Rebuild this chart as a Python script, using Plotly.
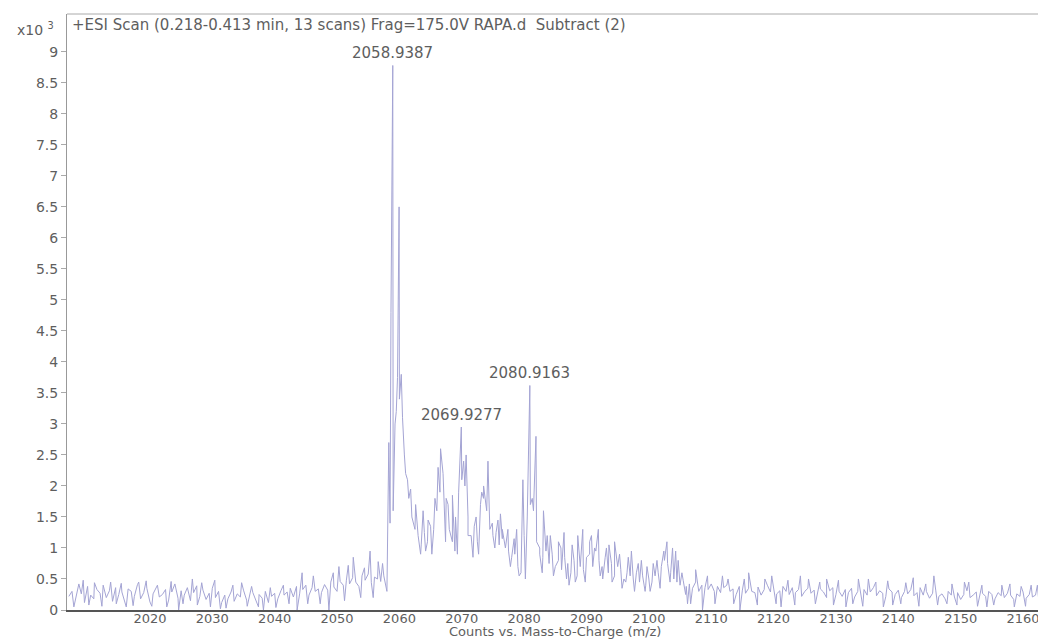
import numpy as np
import plotly.graph_objects as go

# Profile on a 0.5 m/z grid starting at 2007.0 (counts x10^3)
grid_start = 2007.0
grid_step = 0.5
profile = [
    0.22, 0.30, 0.15, 0.35, 0.26, 0.12, 0.38, 0.24, 0.18, 0.33,
    0.27, 0.40, 0.20, 0.31, 0.14, 0.36, 0.25, 0.29, 0.11, 0.34,
    0.30, 0.22, 0.41, 0.18, 0.28, 0.35, 0.13, 0.26, 0.38, 0.21,
    0.25, 0.33, 0.16, 0.29, 0.42, 0.19, 0.31, 0.24, 0.36, 0.15,
    0.28, 0.39, 0.22, 0.32, 0.17, 0.27, 0.35, 0.20, 0.30, 0.12,
    0.24, 0.18, 0.29, 0.14, 0.26, 0.21, 0.32, 0.16, 0.23, 0.28,
    0.15, 0.25, 0.19, 0.30, 0.12, 0.22, 0.27, 0.18, 0.31, 0.24,
    0.29, 0.35, 0.21, 0.38, 0.26, 0.33, 0.40, 0.24, 0.36, 0.30,
    0.34, 0.28, 0.41, 0.32, 0.45, 0.37, 0.30, 0.46, 0.40, 0.48,
    0.42, 0.52, 0.45, 0.38, 0.55, 0.48, 0.58, 0.44, 0.53, 0.50,
    0.46, 0.55, 0.30, 1.40, 1.60, 3.20, 3.40, 3.10, 2.20, 1.80,
    1.50, 1.30, 1.20, 1.05, 1.25, 1.10, 1.35, 1.30, 1.60, 1.90,
    2.20, 1.80, 1.30, 1.10, 1.50, 1.90, 2.10, 2.00, 1.50, 1.20,
    1.35, 1.10, 1.70, 1.80, 1.60, 1.30, 1.20, 1.25, 1.05, 1.15,
    1.00, 0.95, 0.85, 0.90, 0.70, 0.60, 1.20, 1.50, 1.70, 1.60,
    1.10, 1.00, 0.85, 0.95, 0.75, 0.90, 0.70, 0.80, 0.65, 0.85,
    0.75, 0.60, 0.80, 0.55, 0.70, 0.65, 0.85, 0.90, 0.70, 0.95,
    0.80, 0.70, 0.85, 0.60, 0.75, 0.55, 0.70, 0.65, 0.50, 0.60,
    0.55, 0.50, 0.60, 0.45, 0.55, 0.40, 0.50, 0.45, 0.55, 0.60,
    0.70, 0.80, 0.75, 0.60, 0.50, 0.45, 0.40, 0.48, 0.38, 0.42,
    0.35, 0.45, 0.30, 0.40, 0.36, 0.33, 0.42, 0.30, 0.38, 0.28,
    0.36, 0.40, 0.30, 0.34, 0.25, 0.38, 0.32, 0.27, 0.35, 0.30,
    0.28, 0.37, 0.24, 0.33, 0.40, 0.29, 0.35, 0.26, 0.31, 0.38,
    0.30, 0.25, 0.36, 0.28, 0.33, 0.22, 0.30, 0.35, 0.27, 0.32,
    0.24, 0.34, 0.29, 0.20, 0.31, 0.36, 0.25, 0.30, 0.22, 0.33,
    0.28, 0.35, 0.21, 0.30, 0.26, 0.33, 0.24, 0.29, 0.36, 0.23,
    0.31, 0.27, 0.22, 0.34, 0.29, 0.25, 0.32, 0.20, 0.30, 0.26,
    0.33, 0.23, 0.28, 0.36, 0.24, 0.30, 0.19, 0.27, 0.32, 0.22,
    0.26, 0.18, 0.30, 0.24, 0.21, 0.28, 0.17, 0.25, 0.31, 0.20,
    0.24, 0.29, 0.19, 0.27, 0.22, 0.30, 0.25, 0.18, 0.28, 0.23,
    0.20, 0.27, 0.24, 0.17, 0.26, 0.22, 0.29, 0.19, 0.25, 0.21,
    0.24, 0.18, 0.26, 0.20,
]

# Individual spikes / dips (m/z, counts x10^3)
spike_mz = [
    2009.3, 2013.7, 2016.2, 2019.4, 2024.6, 2026.8, 2031.3, 2034.7, 2038.2,
    2043.6, 2044.4, 2048.7, 2050.3, 2052.6, 2053.8, 2055.3, 2056.6,
    2058.3, 2058.65, 2058.9387, 2059.3, 2059.7, 2059.95, 2060.3, 2060.8,
    2061.3, 2061.8, 2062.6, 2063.4, 2064.6, 2065.7, 2066.2, 2066.6, 2067.4,
    2068.5, 2068.9, 2069.9277, 2070.3, 2070.7, 2071.0, 2071.8, 2072.3,
    2073.5, 2074.2, 2074.9, 2075.8, 2076.5, 2077.4, 2078.4, 2079.2, 2079.8,
    2080.2, 2080.9163, 2081.3, 2081.9, 2082.5, 2083.1, 2084.2, 2085.5,
    2086.4, 2087.2, 2088.6, 2089.4, 2090.5, 2091.3, 2091.9, 2092.6, 2093.6,
    2094.5, 2096.3, 2097.2, 2098.8, 2099.4, 2100.7, 2102.4, 2102.9, 2103.8,
    2104.7, 2105.9, 2107.5, 2108.6, 2111.8, 2114.6, 2116.0, 2119.7, 2121.2,
    2124.3, 2128.5, 2131.6, 2135.2, 2139.1, 2142.4, 2145.7, 2147.8, 2150.6,
    2154.2, 2157.9, 2161.3,
]
spike_val = [
    0.48, 0.45, 0.05, 0.47, 0.00, 0.50, 0.02, 0.44, 0.00,
    0.00, 0.60, 0.00, 0.70, 0.85, 0.20, 0.95, 0.78,
    2.70, 4.80, 8.78, 3.00, 3.75, 6.50, 3.80, 2.50,
    2.10, 1.95, 1.70, 0.90, 1.45, 1.80, 2.30, 2.60, 1.10,
    1.85, 0.95, 2.95, 2.40, 2.50, 1.20, 0.85, 1.50,
    2.00, 2.40, 1.40, 1.45, 1.30, 1.30, 1.15, 0.55, 2.10,
    0.50, 3.62, 1.80, 2.80, 0.90, 1.60, 1.20, 1.10,
    1.25, 0.40, 1.20, 1.30, 1.10, 1.00, 1.30, 0.50, 1.05,
    1.10, 0.45, 0.95, 0.80, 0.30, 0.75, 0.95, 1.10, 1.00,
    0.80, 0.25, 0.65, 0.00, 0.55, 0.00, 0.60, 0.55, 0.05,
    0.55, 0.50, 0.05, 0.50, 0.08, 0.52, 0.55, 0.10, 0.45,
    0.05, 0.42, 0.40,
]

# Further noise strokes (m/z, counts x10^3)
noise_mz = [
    2007.8, 2008.6, 2010.2, 2011.1, 2012.3, 2014.6, 2015.4, 2017.3, 2018.2,
    2020.3, 2021.2, 2022.7, 2023.4, 2025.3, 2027.6, 2028.3, 2029.7, 2030.4,
    2032.2, 2033.3, 2035.6, 2036.3, 2037.4, 2039.3, 2040.2, 2041.4, 2042.3,
    2045.3, 2046.2, 2047.3, 2049.4, 2051.2, 2051.8, 2054.4, 2055.8, 2057.3,
    2063.8, 2064.2, 2065.2, 2067.8, 2069.3, 2072.7, 2073.2, 2075.3, 2076.2,
    2077.8, 2078.8, 2082.9, 2083.7, 2084.7, 2085.9, 2086.8, 2087.7, 2088.2,
    2089.8, 2090.8, 2092.2, 2093.2, 2094.1, 2095.3, 2095.7, 2096.7, 2097.7,
    2098.3, 2099.7, 2100.2, 2101.3, 2101.8, 2103.4, 2104.3, 2105.3, 2106.2,
    2106.7, 2109.4, 2110.6, 2112.7, 2113.6, 2115.3, 2117.4, 2118.6, 2120.4,
    2122.3, 2123.4, 2125.6, 2126.7, 2127.4, 2129.6, 2130.4, 2132.7, 2133.6,
    2134.3, 2136.4, 2137.6, 2138.3, 2140.4, 2141.2, 2143.3, 2144.4, 2146.3,
    2148.6, 2149.4, 2151.3, 2152.7, 2153.4, 2155.3, 2156.6, 2158.6, 2159.7,
    2160.4, 2162.3, 2163.0,
]
noise_val = [
    0.05, 0.42, 0.08, 0.44, 0.06, 0.10, 0.43, 0.07, 0.45,
    0.06, 0.40, 0.05, 0.46, 0.10, 0.08, 0.44, 0.05, 0.48,
    0.03, 0.40, 0.06, 0.38, 0.05, 0.36, 0.04, 0.40, 0.10,
    0.10, 0.55, 0.10, 0.60, 0.15, 0.72, 0.68, 0.20, 0.75,
    1.60, 0.95, 0.90, 1.70, 0.90, 0.90, 1.90, 1.00, 1.55,
    0.70, 1.30, 0.60, 1.20, 0.55, 1.00, 0.50, 1.05, 0.45,
    0.45, 1.20, 0.55, 1.00, 0.45, 0.90, 0.35, 0.85, 0.30,
    0.75, 0.70, 0.30, 0.80, 0.35, 0.45, 0.95, 0.60, 0.10,
    0.10, 0.55, 0.10, 0.50, 0.10, 0.50, 0.08, 0.50, 0.10,
    0.48, 0.08, 0.50, 0.10, 0.45, 0.08, 0.48, 0.10, 0.50,
    0.06, 0.45, 0.05, 0.47, 0.10, 0.44, 0.06, 0.42, 0.08,
    0.42, 0.08, 0.45, 0.06, 0.40, 0.08, 0.40, 0.05, 0.38,
    0.06, 0.40, 0.08,
]

# Labelled peaks
label_mz = [2058.9387, 2069.9277, 2080.9163]
label_val = [8.78, 2.95, 3.62]
label_text = ["2058.9387", "2069.9277", "2080.9163"]

x_ticks = list(range(2020, 2161, 10))
y_ticks = [0, 0.5, 1, 1.5, 2, 2.5, 3, 3.5, 4, 4.5, 5, 5.5, 6, 6.5, 7, 7.5, 8, 8.5, 9]
y_tick_text = ["0", "0.5", "1", "1.5", "2", "2.5", "3", "3.5", "4", "4.5", "5",
               "5.5", "6", "6.5", "7", "7.5", "8", "8.5", "9"]

grid_mz = grid_start + grid_step * np.arange(len(profile))
all_mz = np.concatenate([grid_mz, np.array(spike_mz), np.array(noise_mz)])
all_val = np.concatenate([np.array(profile), np.array(spike_val), np.array(noise_val)])
order = np.argsort(all_mz, kind="stable")

FONT = "DejaVu Sans, Verdana, sans-serif"
GREY = "#5e5e5e"

fig = go.Figure()
fig.add_trace(go.Scatter(
    x=all_mz[order], y=all_val[order], mode="lines",
    line=dict(color="#a4a4d4", width=1), hoverinfo="x+y", showlegend=False,
))

for mz, v, t in zip(label_mz, label_val, label_text):
    fig.add_annotation(x=mz, y=v, text=t, showarrow=False, yanchor="bottom",
                       yshift=1, font=dict(family=FONT, size=15, color=GREY))

fig.add_annotation(xref="paper", yref="paper", x=0.003, y=0.982, xanchor="left",
                   yanchor="middle", showarrow=False,
                   text="+ESI Scan (0.218-0.413 min, 13 scans) Frag=175.0V RAPA.d  Subtract (2)",
                   font=dict(family=FONT, size=15, color=GREY))
fig.add_annotation(xref="paper", yref="paper", x=-0.011, y=0.975, xanchor="right",
                   yanchor="middle", showarrow=False,
                   text="x10 <sup>3</sup>",
                   font=dict(family=FONT, size=14, color=GREY))
fig.add_annotation(xref="paper", yref="paper", x=0.5, y=-0.051, xanchor="center",
                   yanchor="bottom", showarrow=False, borderpad=0,
                   text="Counts vs. Mass-to-Charge (m/z)",
                   font=dict(family=FONT, size=13, color=GREY))

# page body has an 8px margin, so the figure is placed at (8, 8)
fig.update_layout(
    width=1038, height=631,
    margin=dict(l=59, r=3, t=6, b=29),
    paper_bgcolor="white", plot_bgcolor="white",
    font=dict(family=FONT, size=14, color=GREY),
    showlegend=False,
)
fig.update_xaxes(
    range=[2006.7, 2163.2], tickvals=x_ticks, ticks="", showgrid=False,
    zeroline=False, showline=True, linecolor="#555555", linewidth=2,
    mirror=False, tickfont=dict(family=FONT, size=13, color=GREY),
    ticklabelstandoff=-5, automargin=False,
)
fig.update_yaxes(
    range=[0, 9.61], tickvals=y_ticks, ticktext=y_tick_text, ticks="outside",
    ticklen=5, tickcolor="#aaaaaa", showgrid=False, zeroline=False,
    showline=True, linecolor="#999999", linewidth=1,
    tickfont=dict(family=FONT, size=14, color=GREY), automargin=False,
)
fig.add_shape(type="line", xref="paper", yref="paper", x0=0, x1=1, y0=1, y1=1,
              line=dict(color="#aaaaaa", width=1))

fig.write_html("out.html")
